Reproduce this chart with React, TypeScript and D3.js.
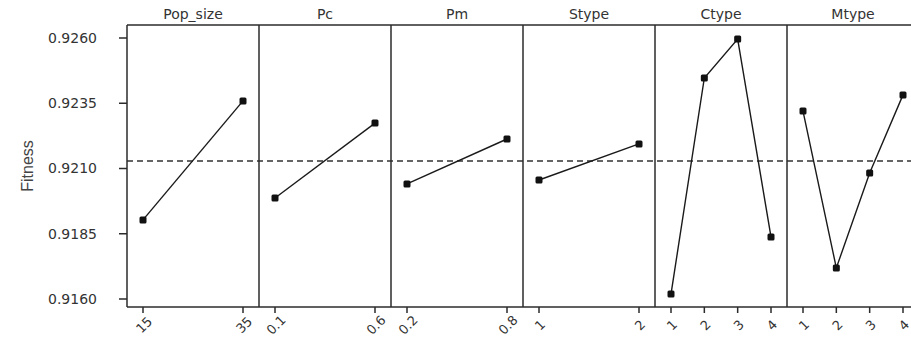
import { useEffect, useRef } from 'react';
import * as d3 from 'd3';

// factor names (panel titles) and their levels
const factors = ["Pop_size", "Pc", "Pm", "Stype", "Ctype", "Mtype"];
const popSizeLevels = ["15", "35"];
const pcLevels = ["0.1", "0.6"];
const pmLevels = ["0.2", "0.8"];
const stypeLevels = ["1", "2"];
const ctypeLevels = ["1", "2", "3", "4"];
const mtypeLevels = ["1", "2", "3", "4"];

// mean fitness for each level
const popSizeMeans = [0.91903, 0.92359];
const pcMeans = [0.91987, 0.92274];
const pmMeans = [0.92041, 0.92213];
const stypeMeans = [0.92056, 0.92194];
const ctypeMeans = [0.91619, 0.92447, 0.92596, 0.91838];
const mtypeMeans = [0.92320, 0.91719, 0.92083, 0.92382];

const grandMean = 0.92129;
const yTicks = [0.9160, 0.9185, 0.9210, 0.9235, 0.9260];

const levels = [popSizeLevels, pcLevels, pmLevels, stypeLevels, ctypeLevels, mtypeLevels];
const means = [popSizeMeans, pcMeans, pmMeans, stypeMeans, ctypeMeans, mtypeMeans];

const W = 911, H = 338;
const left = 127, top = 25, bottom = 307, panelW = 132;

const App = () => {
  const ref = useRef<SVGSVGElement>(null);

  useEffect(() => {
    const svg = d3.select(ref.current);
    svg.selectAll("*").remove();

    const y = d3.scaleLinear().domain([0.9160, 0.9260]).range([299, 38]);
    const font = "'DejaVu Sans', Verdana, sans-serif";
    const ink = "#2b2b2b";

    // y axis
    const yAxis = svg.append("g");
    yAxis.selectAll("line").data(yTicks).enter().append("line")
      .attr("x1", left - 8).attr("x2", left)
      .attr("y1", d => y(d)).attr("y2", d => y(d))
      .attr("stroke", ink).attr("stroke-width", 1.5);
    yAxis.selectAll("text").data(yTicks).enter().append("text")
      .attr("x", 97).attr("y", d => y(d)).attr("dy", "0.35em")
      .attr("text-anchor", "end")
      .attr("font-family", font).attr("font-size", 14).attr("fill", "#333")
      .text(d => d3.format(".4f")(d));

    svg.append("text")
      .attr("transform", `translate(27,${(top + bottom) / 2}) rotate(-90)`)
      .attr("text-anchor", "middle").attr("dy", "0.35em")
      .attr("font-family", "'Liberation Sans', Arial, sans-serif")
      .attr("font-size", 16).attr("fill", "#444")
      .text("Fitness");

    // frame
    svg.append("line").attr("x1", left).attr("x2", W).attr("y1", top).attr("y2", top)
      .attr("stroke", ink).attr("stroke-width", 1.5);
    svg.append("line").attr("x1", left).attr("x2", W).attr("y1", bottom).attr("y2", bottom)
      .attr("stroke", ink).attr("stroke-width", 1.5);

    // grand mean reference
    svg.append("line")
      .attr("x1", left).attr("x2", W)
      .attr("y1", y(grandMean)).attr("y2", y(grandMean))
      .attr("stroke", "#333").attr("stroke-width", 1.5)
      .attr("stroke-dasharray", "6,4");

    factors.forEach((name, i) => {
      const x0 = left + panelW * i;
      const x = d3.scalePoint().domain(levels[i]).range([x0 + 16, x0 + panelW - 16]);
      const g = svg.append("g");

      g.append("line").attr("x1", x0).attr("x2", x0).attr("y1", top).attr("y2", bottom)
        .attr("stroke", ink).attr("stroke-width", 1.5);

      g.append("text")
        .attr("x", x0 + panelW / 2).attr("y", top - 6)
        .attr("text-anchor", "middle")
        .attr("font-family", font).attr("font-size", 14).attr("fill", "#333")
        .text(name);

      const pts = levels[i].map((l, j) => ({ l, v: means[i][j] }));

      g.append("path")
        .datum(pts)
        .attr("fill", "none").attr("stroke", "#1a1a1a").attr("stroke-width", 1.4)
        .attr("d", d3.line<{ l: string; v: number }>().x(d => x(d.l)!).y(d => y(d.v)));

      g.selectAll("rect.pt").data(pts).enter().append("rect")
        .attr("class", "pt")
        .attr("x", d => x(d.l)! - 3.5).attr("y", d => y(d.v) - 3.5)
        .attr("width", 7).attr("height", 7).attr("rx", 1.5)
        .attr("fill", "#111");

      // x ticks
      g.selectAll("line.tick").data(levels[i]).enter().append("line")
        .attr("class", "tick")
        .attr("x1", d => x(d)!).attr("x2", d => x(d)!)
        .attr("y1", bottom).attr("y2", bottom + 6)
        .attr("stroke", ink).attr("stroke-width", 1.5);
      g.selectAll("text.tl").data(levels[i]).enter().append("text")
        .attr("class", "tl")
        .attr("transform", d => `translate(${x(d)! + 1},${bottom + 18}) rotate(-45)`)
        .attr("text-anchor", "middle").attr("dy", "0.35em")
        .attr("font-family", font).attr("font-size", 13).attr("fill", "#333")
        .text(d => d);
    });
  }, []);

  return (
    <svg ref={ref} width={W} height={H}
      style={{ position: "absolute", left: 0, top: 0, background: "#fff" }} />
  );
};

export default App;
